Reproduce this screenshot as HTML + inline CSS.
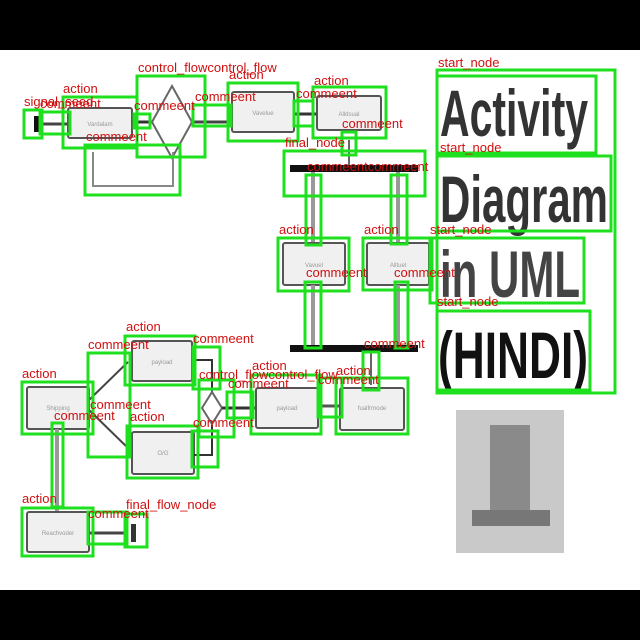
<!DOCTYPE html>
<html><head><meta charset="utf-8"><style>
html,body{margin:0;padding:0;background:#000;}
svg{display:block;}
</style></head><body>
<svg width="640" height="640" xmlns="http://www.w3.org/2000/svg" font-family="Liberation Sans, sans-serif">
<rect x="0" y="0" width="640" height="640" fill="#000"/>
<rect x="0" y="50" width="640" height="540" fill="#fff"/>

<!-- underlying diagram -->
<g stroke="#555" stroke-width="2" fill="#f0f0f0">
  <rect x="34" y="116" width="5" height="16" fill="#111" stroke="none"/>
  <line x1="40" y1="124" x2="68" y2="124" stroke="#444" stroke-width="3"/>
  <rect x="68" y="108" width="64" height="30" rx="2"/>
  <line x1="132" y1="122" x2="152" y2="122" stroke="#333" stroke-width="3"/>
  <polygon points="172,86 192,122 172,158 152,122" fill="#fff" stroke="#666"/>
  <line x1="192" y1="122" x2="232" y2="122" stroke="#444" stroke-width="3"/>
  <polyline points="93,152 93,186 173,186 173,152" fill="none" stroke="#888"/>
  <rect x="232" y="92" width="62" height="40" rx="2"/>
  <line x1="294" y1="114" x2="316" y2="114" stroke="#333" stroke-width="3"/>
  <rect x="317" y="96" width="64" height="34" rx="2"/>
  <line x1="349" y1="140" x2="349" y2="165" stroke="#666"/>
  <rect x="290" y="165" width="128" height="7" fill="#111" stroke="none"/>
  <line x1="313" y1="172" x2="313" y2="242" stroke="#999" stroke-width="4"/>
  <line x1="398" y1="172" x2="398" y2="242" stroke="#999" stroke-width="4"/>
  <rect x="283" y="243" width="62" height="42" rx="2"/>
  <rect x="367" y="243" width="62" height="42" rx="2"/>
  <line x1="313" y1="285" x2="313" y2="345" stroke="#999" stroke-width="4"/>
  <line x1="398" y1="285" x2="398" y2="345" stroke="#999" stroke-width="4"/>
  <rect x="290" y="345" width="128" height="7" fill="#111" stroke="none"/>
  <line x1="371" y1="352" x2="371" y2="385" stroke="#666"/>
  <rect x="27" y="387" width="62" height="42" rx="2"/>
  <line x1="89" y1="400" x2="128" y2="362" stroke="#444"/>
  <line x1="89" y1="410" x2="128" y2="448" stroke="#444"/>
  <rect x="132" y="341" width="60" height="40" rx="2"/>
  <rect x="132" y="432" width="62" height="42" rx="2"/>
  <polyline points="192,360 212,360 212,395" fill="none" stroke="#333"/>
  <polyline points="194,455 212,455 212,425" fill="none" stroke="#333"/>
  <polygon points="212,392 222,408 212,424 202,408" fill="#fff" stroke="#666"/>
  <line x1="222" y1="408" x2="256" y2="408" stroke="#333" stroke-width="3"/>
  <rect x="256" y="388" width="62" height="40" rx="2"/>
  <line x1="318" y1="406" x2="340" y2="406" stroke="#555" stroke-width="3"/>
  <rect x="340" y="388" width="64" height="42" rx="2"/>
  <line x1="57" y1="429" x2="57" y2="512" stroke="#999" stroke-width="4"/>
  <rect x="27" y="512" width="62" height="40" rx="2"/>
  <line x1="89" y1="533" x2="128" y2="533" stroke="#444" stroke-width="3"/>
  <rect x="131" y="524" width="5" height="18" fill="#333" stroke="none"/>
</g>
<g font-size="6" fill="#999" text-anchor="middle">
  <text x="100" y="126">Vardalam</text><text x="263" y="115">Vavelue</text><text x="349" y="116">Alldsual</text>
  <text x="314" y="267">Vavuel</text><text x="398" y="267">Alltuel</text><text x="58" y="410">Shipping</text>
  <text x="162" y="364">payload</text><text x="163" y="455">O/G</text><text x="287" y="410">payload</text>
  <text x="372" y="410">fualfrmode</text><text x="58" y="535">Reachvoder</text>
</g>

<!-- title -->
<g fill="#333" font-weight="bold" font-size="66">
  <text x="440" y="136" textLength="148" lengthAdjust="spacingAndGlyphs">Activity</text>
  <text x="440" y="222" textLength="168" lengthAdjust="spacingAndGlyphs">Diagram</text>
  <text x="440" y="297" textLength="140" lengthAdjust="spacingAndGlyphs" fill="#444">in UML</text>
  <text x="438" y="378" textLength="150" lengthAdjust="spacingAndGlyphs" fill="#111">(HINDI)</text>
</g>
<rect x="456" y="410" width="108" height="143" fill="#c9c9c9"/>
<rect x="490" y="425" width="40" height="100" fill="#8a8a8a"/>
<rect x="472" y="510" width="78" height="16" fill="#777"/>

<!-- green boxes -->
<g fill="none" stroke="#1ee01e" stroke-width="3">
  <rect x="24" y="110" width="18" height="28"/><rect x="40" y="112" width="30" height="22"/>
  <rect x="63" y="97" width="74" height="51"/><rect x="134" y="114" width="16" height="14"/>
  <rect x="137" y="76" width="68" height="81"/><rect x="85" y="145" width="95" height="50"/>
  <rect x="193" y="105" width="38" height="21"/><rect x="228" y="83" width="70" height="58"/>
  <rect x="294" y="101" width="19" height="25"/><rect x="313" y="87" width="73" height="51"/>
  <rect x="342" y="132" width="14" height="23"/><rect x="284" y="151" width="141" height="45"/>
  <rect x="306" y="175" width="15" height="70"/><rect x="391" y="175" width="16" height="69"/>
  <rect x="278" y="238" width="71" height="53"/><rect x="363" y="238" width="69" height="52"/>
  <rect x="305" y="282" width="16" height="66"/><rect x="395" y="282" width="13" height="66"/>
  <rect x="437" y="70" width="178" height="323"/><rect x="437" y="76" width="159" height="77"/>
  <rect x="437" y="156" width="174" height="75"/><rect x="430" y="238" width="154" height="65"/>
  <rect x="437" y="311" width="153" height="79"/>
  <rect x="22" y="382" width="71" height="52"/><rect x="88" y="353" width="42" height="104"/>
  <rect x="125" y="336" width="70" height="49"/><rect x="193" y="347" width="27" height="42"/>
  <rect x="127" y="426" width="71" height="52"/><rect x="192" y="431" width="26" height="36"/>
  <rect x="199" y="380" width="35" height="57"/><rect x="227" y="392" width="26" height="26"/>
  <rect x="251" y="375" width="70" height="59"/><rect x="318" y="378" width="24" height="39"/>
  <rect x="336" y="378" width="72" height="56"/><rect x="363" y="352" width="16" height="38"/>
  <rect x="52" y="423" width="11" height="84"/><rect x="22" y="508" width="71" height="48"/>
  <rect x="88" y="512" width="39" height="32"/><rect x="125" y="514" width="22" height="33"/>
</g>

<!-- red labels -->
<g fill="#d01010" font-size="13">
  <text x="24" y="106">signal_seed</text><text x="40" y="108">commeent</text>
  <text x="63" y="93">action</text><text x="134" y="110">commeent</text>
  <text x="138" y="72">control_flowcontrol_flow</text><text x="86" y="141">commeent</text>
  <text x="195" y="101">commeent</text><text x="229" y="79">action</text>
  <text x="296" y="98">commeent</text><text x="314" y="85">action</text>
  <text x="342" y="128">commeent</text><text x="285" y="147">final_node</text>
  <text x="307" y="171">commeentcommeent</text>
  <text x="279" y="234">action</text><text x="364" y="234">action</text>
  <text x="306" y="277">commeent</text><text x="394" y="277">commeent</text>
  <text x="438" y="67">start_node</text><text x="440" y="152">start_node</text>
  <text x="430" y="234">start_node</text><text x="437" y="306">start_node</text>
  <text x="364" y="348">commeent</text>
  <text x="22" y="378">action</text><text x="88" y="349">commeent</text>
  <text x="126" y="331">action</text><text x="193" y="343">commeent</text>
  <text x="54" y="420">commeent</text><text x="90" y="409">commeent</text><text x="130" y="421">action</text>
  <text x="193" y="427">commeent</text>
  <text x="199" y="379">control_flowcontrol_flow</text><text x="228" y="388">commeent</text>
  <text x="252" y="370">action</text><text x="336" y="375">action</text><text x="318" y="384">commeent</text>
  <text x="22" y="503">action</text><text x="88" y="518">commeent</text>
  <text x="126" y="509">final_flow_node</text>
</g>
</svg>
</body></html>
